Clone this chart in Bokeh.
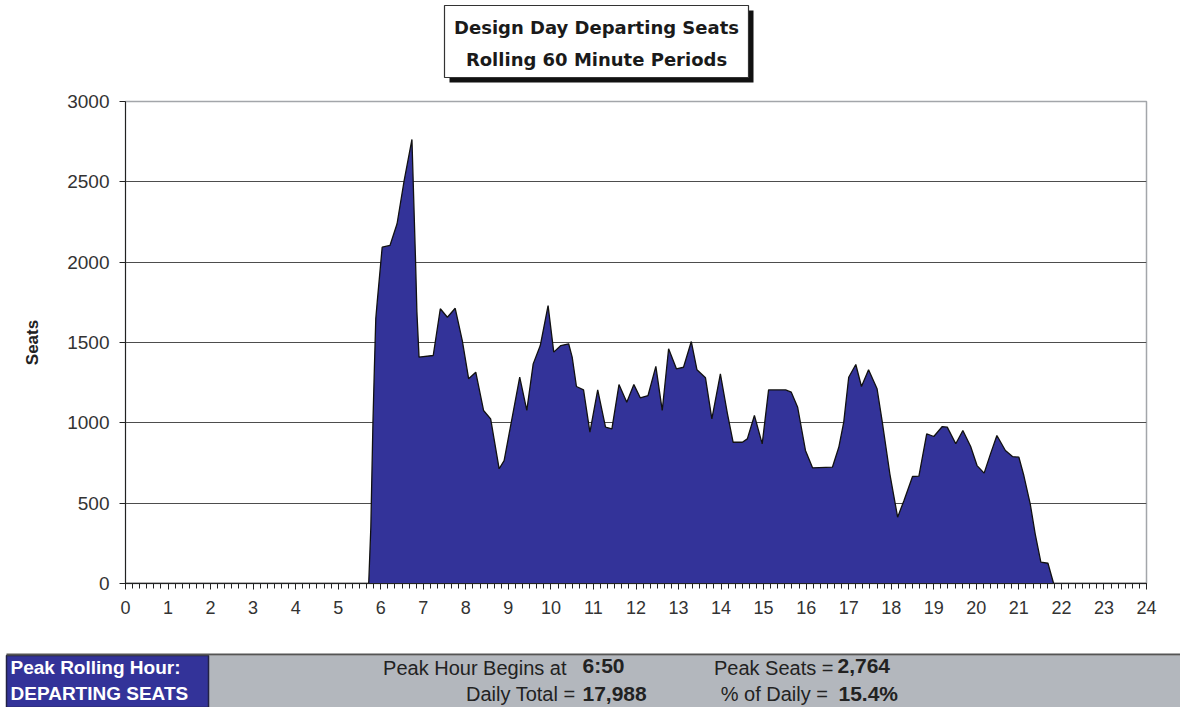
from bokeh.plotting import figure
from bokeh.models import Range1d, FixedTicker
from bokeh.embed import file_html
from bokeh.resources import INLINE
from bokeh.core.properties import value

# ---- data (minutes after midnight, rolling 60-minute departing seats) ----
minutes = [0, 343, 346, 349, 351, 353, 355, 362, 373, 383, 393, 404, 409, 411, 414,
           434, 444, 454, 465, 475, 484, 494, 505, 515, 527, 534, 545, 556, 566,
           575, 585, 596, 604, 614, 625, 630, 636, 646, 655, 666, 677, 686, 696,
           707, 717, 726, 737, 748, 757, 766, 777, 787, 798, 806, 818, 827, 839,
           849, 857, 870, 877, 887, 898, 907, 931, 939, 948, 959, 969, 997, 1006,
           1013, 1020, 1030, 1038, 1048, 1060, 1067, 1078, 1089, 1098, 1110, 1119,
           1130, 1140, 1152, 1159, 1171, 1181, 1192, 1201, 1211, 1220, 1229, 1241,
           1251, 1260, 1267, 1276, 1283, 1291, 1301, 1309, 1440]
seats = [0, 0, 349, 1004, 1338, 1649, 1751, 2093, 2104, 2239, 2508, 2764, 2021, 1689, 1409,
         1419, 1710, 1657, 1713, 1512, 1274, 1315, 1077, 1025, 714, 765, 1025, 1284, 1077,
         1367, 1481, 1730, 1440, 1481, 1492, 1409, 1226, 1205, 942, 1205, 973, 963, 1238,
         1128, 1238, 1156, 1170, 1351, 1077, 1461, 1336, 1346, 1506, 1330, 1280, 1025, 1305,
         1056, 879, 879, 900, 1046, 869, 1205, 1205, 1191, 1097, 828, 720, 724, 848,
         1004, 1284, 1363, 1226, 1330, 1212, 1015, 683, 413, 517, 666, 668,
         932, 915, 977, 973, 870, 952, 853, 734, 687, 807, 921, 828,
         790, 786, 672, 496, 309, 133, 126, 0, 0]

hour_ticks = list(range(0, 25))
seat_ticks = [0, 500, 1000, 1500, 2000, 2500, 3000]

title_lines = ["Design Day Departing Seats", "Rolling 60 Minute Periods"]
panel_labels = ["Peak Rolling Hour:", "DEPARTING SEATS"]
stat_names = ["Peak Hour Begins at", "Daily Total =", "Peak Seats =", "%  of Daily ="]
stat_values = ["6:50", "17,988", "2,764", "15.4%"]

hours = [m / 60.0 for m in minutes]

FILL = "#333399"
SANS = "Liberation Sans"
W = 1180


def blank(height, y0, y1):
    f = figure(width=W, height=height, x_range=Range1d(0, W), y_range=Range1d(y1, y0),
               output_backend="svg", toolbar_location=None, min_border=0,
               x_axis_location=None, y_axis_location=None)
    f.grid.visible = False
    f.outline_line_color = None
    return f


# ---------------- title ----------------
t = blank(85, 0, 85)
t.quad(left=[449], right=[753], top=[10], bottom=[82], fill_color="#111111", line_color=None)
t.quad(left=[444], right=[748], top=[5], bottom=[77], fill_color="white",
       line_color="#333333", line_width=1.2)
t.text(x=[596, 596], y=[27, 59], text=title_lines, text_align="center",
       text_baseline="middle", text_font=value("DejaVu Sans"), text_font_style="bold",
       text_font_size="18px", text_color="#1a1a1a")

# ---------------- main chart ----------------
p = figure(width=W, height=563, x_range=Range1d(0, 24), y_range=Range1d(0, 3000),
           output_backend="svg", toolbar_location=None,
           min_border_left=125, min_border_right=34, min_border_top=16, min_border_bottom=65)
p.xgrid.visible = False
p.ygrid.ticker = FixedTicker(ticks=seat_ticks)
p.ygrid.grid_line_color = "#4d4d4d"
p.ygrid.grid_line_width = 1
p.outline_line_color = "#a3a6aa"
p.outline_line_width = 1.5

p.varea(x=hours, y1=[0] * len(hours), y2=seats, fill_color=FILL)
p.line(x=hours, y=seats, line_color="#111111", line_width=1.3)

p.yaxis.ticker = FixedTicker(ticks=seat_ticks)
p.yaxis.major_label_text_font = SANS
p.yaxis.major_label_text_font_size = "19px"
p.yaxis.major_label_text_color = "#333333"
p.yaxis.major_tick_out = 6
p.yaxis.major_tick_in = 0
p.yaxis.minor_tick_out = 0
p.yaxis.minor_tick_in = 0
p.yaxis.major_label_standoff = 10
p.yaxis.axis_line_color = "#222222"
p.yaxis.major_tick_line_color = "#222222"
p.yaxis.axis_label = "Seats"
p.yaxis.axis_label_text_font = SANS
p.yaxis.axis_label_text_font_style = "bold"
p.yaxis.axis_label_text_font_size = "17px"
p.yaxis.axis_label_text_color = "#222222"
p.yaxis.axis_label_standoff = 22

p.xaxis.ticker = FixedTicker(ticks=hour_ticks, minor_ticks=[i / 6 for i in range(0, 145)])
p.xaxis.major_label_text_font = SANS
p.xaxis.major_label_text_font_size = "18px"
p.xaxis.major_label_text_color = "#333333"
p.xaxis.major_tick_out = 6
p.xaxis.major_tick_in = 0
p.xaxis.minor_tick_out = 5
p.xaxis.minor_tick_in = 0
p.xaxis.major_label_standoff = 11
p.xaxis.axis_line_color = "#222222"
p.xaxis.major_tick_line_color = "#222222"
p.xaxis.minor_tick_line_color = "#222222"

# ---------------- bottom panel ----------------
b = blank(59, 648, 707)
b.quad(left=[208], right=[W], top=[655], bottom=[707], fill_color="#b3b7bd", line_color=None)
b.quad(left=[6], right=[208], top=[655], bottom=[707], fill_color=FILL,
       line_color="#222244", line_width=1.5)
b.segment(x0=[6], y0=[654], x1=[W], y1=[654], line_color="#555555", line_width=2)
b.text(x=[10, 10], y=[667, 693], text=panel_labels, text_align="left", text_baseline="middle",
       text_font=value(SANS), text_font_style="bold", text_font_size="19px",
       text_color="white")
b.text(x=[566, 575, 833, 833], y=[667, 693, 667, 693], text=stat_names, text_align="right",
       text_baseline="middle", text_font=value(SANS), text_font_size="20px",
       text_color="#222222")
b.text(x=[582, 582, 837, 838], y=[665, 693, 665, 693], text=stat_values, text_align="left",
       text_baseline="middle", text_font=value(SANS), text_font_style="bold",
       text_font_size="21px", text_color="#222222")

open("out.html", "w").write(file_html([t, p, b], INLINE))
